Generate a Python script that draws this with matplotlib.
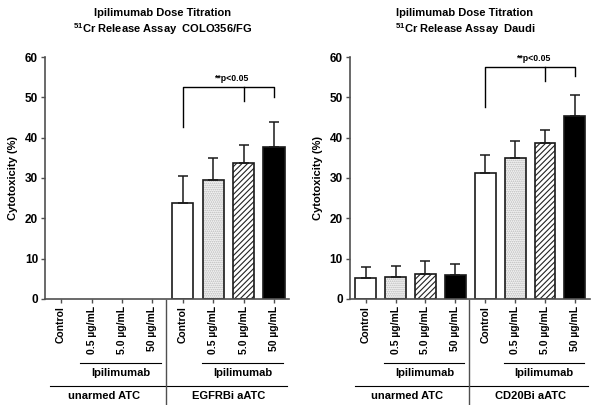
import numpy as np
import matplotlib
matplotlib.use("Agg")
import matplotlib.pyplot as plt
import matplotlib.transforms as mtransforms

plt.rcParams['font.family'] = ['Liberation Sans', 'DejaVu Sans']
plt.rcParams['font.weight'] = 'bold'
plt.rcParams['mathtext.fontset'] = 'custom'
plt.rcParams['mathtext.bf'] = 'Liberation Sans:bold'
plt.rcParams['mathtext.rm'] = 'Liberation Sans:bold'
plt.rcParams['hatch.linewidth'] = 0.8

# data
labels = ["Control", "0.5 µg/mL", "5.0 µg/mL", "50 µg/mL"] * 2
groups = ["unarmed ATC", "EGFRBi aATC", "unarmed ATC", "CD20Bi aATC"]

colo_mean = [0, 0, 0, 0, 23.7, 29.6, 33.8, 37.6]
colo_err = [0, 0, 0, 0, 6.8, 5.4, 4.5, 6.2]
colo_br = [52.6, 42.6, 49.0, 50.1]   # bracket top, legs (control, 5.0, 50)

daudi_mean = [5.2, 5.4, 6.2, 6.0, 31.2, 34.9, 38.8, 45.4]
daudi_err = [2.6, 2.8, 3.2, 2.6, 4.4, 4.4, 3.2, 5.2]
daudi_br = [57.6, 47.6, 54.0, 55.3]

titles = ["Ipilimumab Dose Titration\n$^{51}$Cr Release Assay  COLO356/FG",
          "Ipilimumab Dose Titration\n$^{51}$Cr Release Assay  Daudi"]

faces = ['white', '#f4f4f4', 'white', 'black'] * 2
hatches = ['', '........', '//////', ''] * 2
hatch_cols = ['black', '#b8b8b8', '#222222', 'black'] * 2
axcol = '#505050'

fig = plt.figure(figsize=(6, 4.05), dpi=100)
axes = [fig.add_axes([0.075, 0.262, 0.407, 0.597]),
        fig.add_axes([0.583, 0.262, 0.400, 0.597])]

data = [(colo_mean, colo_err, colo_br, groups[:2]),
        (daudi_mean, daudi_err, daudi_br, groups[2:])]

for ax, (mean, err, br, grp), title in zip(axes, data, titles):
    x = np.arange(len(mean))
    for i in range(len(mean)):
        if mean[i] <= 0:
            continue
        # fill + hatch (hatch colour comes from edgecolor), then outline
        ax.bar(x[i], mean[i], width=0.7, color=faces[i], hatch=hatches[i],
               edgecolor=hatch_cols[i], linewidth=0, zorder=2)
        ax.bar(x[i], mean[i], width=0.7, fill=False,
               edgecolor='#1a1a1a', linewidth=1.2, zorder=2.5)
        ax.errorbar(x[i], mean[i], yerr=[[0], [err[i]]], fmt='none',
                    ecolor='#1a1a1a', elinewidth=1.1, capsize=3.5,
                    capthick=1.1, zorder=3)

    ax.set_xlim(-0.53, 7.5)
    ax.set_ylim(0, 60)
    ax.set_yticks(np.arange(0, 61, 10))
    ax.set_xticks(x)
    ax.set_xticklabels(labels, rotation=90, fontsize=7.5, fontweight='bold')
    ax.tick_params(axis='y', labelsize=8.5, length=3, width=1, color=axcol, pad=2)
    ax.tick_params(axis='x', length=3, width=1, color=axcol, pad=2)
    for s in ['top', 'right']:
        ax.spines[s].set_visible(False)
    for s in ['left', 'bottom']:
        ax.spines[s].set_color(axcol)
        ax.spines[s].set_linewidth(1.2)
    ax.set_ylabel("Cytotoxicity (%)", fontsize=8, fontweight='bold', labelpad=5)
    ax.set_title(title, fontsize=8, fontweight='bold', pad=17, linespacing=1.35,
                 x=0.48)

    # significance bracket
    top, l0, l1, l2 = br
    ax.plot([4, 4, 7, 7], [l0, top, top, l2], color='black', lw=1.0, clip_on=False)
    ax.plot([6, 6], [top, l1], color='black', lw=1.0, clip_on=False)
    ax.text(5.6, top + 1.0, "**p<0.05", ha='center', va='bottom', fontsize=6.3)

    # group annotations below axis
    trans = mtransforms.blended_transform_factory(ax.transData, ax.transAxes)
    for c in [2, 6]:
        ax.plot([c - 1.37, c + 1.3], [-0.264, -0.264], color='black', lw=0.8,
                transform=trans, clip_on=False)
        ax.text(c - 0.03, -0.285, "Ipilimumab", ha='center', va='top',
                fontsize=8, transform=trans)
    ax.plot([-0.36, 7.43], [-0.36, -0.36], color='black', lw=0.8,
            transform=trans, clip_on=False)
    ax.plot([3.45, 3.45], [-0.004, -0.44], color=axcol, lw=1.0,
            transform=trans, clip_on=False)
    ax.text(1.4, -0.38, grp[0], ha='center', va='top', fontsize=8, transform=trans)
    ax.text(5.5, -0.38, grp[1], ha='center', va='top', fontsize=8, transform=trans)

fig.savefig("out.png", dpi=100)
